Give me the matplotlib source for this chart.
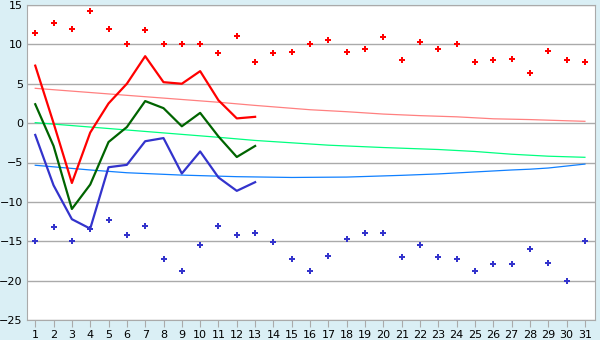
import matplotlib
matplotlib.use("Agg")
import matplotlib.pyplot as plt

days = list(range(1, 32))

# daily points
high_pts = [11.5, 12.7, 12.0, 14.3, 12.0, 10.0, 11.8, 10.0, 10.0, 10.1,
            8.9, 11.1, 7.8, 8.9, 9.0, 10.0, 10.5, 9.0, 9.4, 11.0,
            8.0, 10.3, 9.4, 10.0, 7.8, 8.0, 8.1, 6.4, 9.1, 8.0, 7.7]
low_pts = [-15.0, -13.2, -15.0, -13.5, -12.3, -14.2, -13.0, -17.2, -18.8, -15.5,
           -13.0, -14.2, -14.0, -15.1, -17.2, -18.8, -16.9, -14.7, -14.0, -14.0,
           -17.0, -15.5, -17.0, -17.3, -18.8, -17.9, -17.9, -16.0, -17.8, -20.0, -15.0]

# lines for first 13 days
line_days = list(range(1, 14))
red_line = [7.3, 0.0, -7.6, -1.2, 2.5, 5.0, 8.5, 5.2, 5.0, 6.6, 2.9, 0.6, 0.8]
green_line = [2.4, -2.9, -10.9, -7.8, -2.4, -0.5, 2.8, 1.9, -0.4, 1.3, -1.7, -4.3, -2.9]
blue_line = [-1.5, -7.9, -12.2, -13.4, -5.6, -5.3, -2.3, -1.9, -6.4, -3.6, -6.9, -8.6, -7.5]

# trend curves
pink_days = [1, 6, 11, 13, 16, 18, 20, 22, 24, 26, 28, 30, 31]
pink_vals = [4.42, 3.53, 2.65, 2.25, 1.7, 1.45, 1.15, 0.95, 0.8, 0.55, 0.45, 0.3, 0.23]
lgreen_days = [1, 6, 11, 13, 15, 17, 20, 23, 25, 27, 29, 31]
lgreen_vals = [0.06, -0.87, -1.8, -2.2, -2.5, -2.8, -3.1, -3.35, -3.6, -3.95, -4.2, -4.34]
lblue_days = [1, 4, 6, 9, 12, 15, 18, 21, 23, 25, 27, 28, 29, 30, 31]
lblue_vals = [-5.35, -5.95, -6.3, -6.6, -6.8, -6.9, -6.85, -6.63, -6.45, -6.2, -5.95, -5.85, -5.7, -5.45, -5.2]

fig = plt.figure(figsize=(6, 3.4), dpi=100, facecolor="#daeff5")
ax = fig.add_axes([27/600, 20/340, 568/600, 315/340])
ax.set_facecolor("white")

ax.plot(pink_days, pink_vals, color="#ff8080", lw=0.9)
ax.plot(lgreen_days, lgreen_vals, color="#00ff80", lw=0.9)
ax.plot(lblue_days, lblue_vals, color="#1080ff", lw=0.9)

ax.plot(line_days, red_line, color="#ff0000", lw=1.6)
ax.plot(line_days, green_line, color="#006400", lw=1.6)
ax.plot(line_days, blue_line, color="#3333cc", lw=1.6)

ax.plot(days, high_pts, ls="none", marker="P", ms=4.2, color="#ff0000", mew=0)
ax.plot(days, low_pts, ls="none", marker="P", ms=4.2, color="#3333cc", mew=0)

ax.set_xlim(0.55, 31.55)
ax.set_ylim(-25, 15)
ax.set_xticks(days)
ax.set_yticks(range(-25, 16, 5))
ax.yaxis.grid(True, color="#aaaaaa", lw=1)
ax.set_axisbelow(True)
for s in ax.spines.values():
    s.set_color("#aaaaaa")
ax.tick_params(axis="x", colors="#aaaaaa", length=5, labelcolor="black", labelsize=8, pad=2)
ax.tick_params(axis="y", length=0, labelcolor="black", labelsize=8, pad=3)

plt.savefig("out.png", facecolor=fig.get_facecolor())
